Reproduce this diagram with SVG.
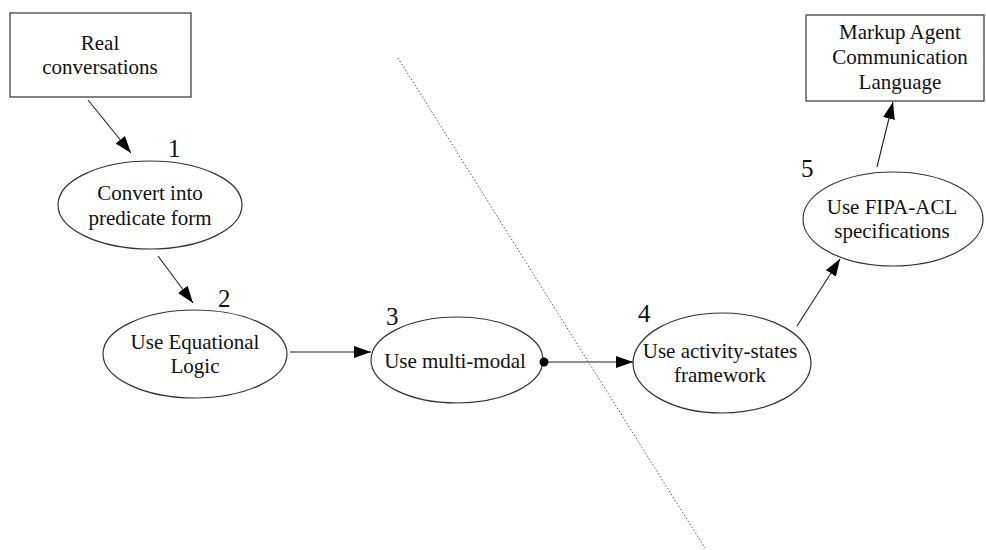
<svg xmlns="http://www.w3.org/2000/svg" width="986" height="550" viewBox="0 0 986 550">
<defs>
<style>
.shape{fill:#fff;stroke:#333;stroke-width:1.2}
.t{font-family:"Liberation Serif","Times New Roman",serif;font-size:21px;fill:#111;text-anchor:middle}
.n{font-family:"Liberation Serif","Times New Roman",serif;font-size:25px;fill:#111}
.c{stroke:#222;stroke-width:1.1;fill:none}
</style>
<marker id="ah" markerUnits="userSpaceOnUse" markerWidth="18" markerHeight="12" viewBox="0 0 18 12" refX="17" refY="6" orient="auto">
<path d="M0,0 L17,6 L0,12 Z" fill="#000"/>
</marker>
</defs>
<rect width="986" height="550" fill="#fff"/>
<line x1="398" y1="58" x2="705" y2="548" stroke="#555" stroke-width="1" stroke-dasharray="1.5,2"/>
<g id="real">
<rect class="shape" x="10" y="13" width="181" height="84"/>
<text class="t" x="100" y="50">Real</text>
<text class="t" x="100" y="74">conversations</text>
</g>
<g id="step1">
<ellipse class="shape" cx="150" cy="205" rx="92" ry="44"/>
<text class="n" x="168" y="157">1</text>
<text class="t" x="150" y="200">Convert into</text>
<text class="t" x="150" y="225">predicate form</text>
</g>
<g id="step2">
<ellipse class="shape" cx="195" cy="354" rx="92" ry="44"/>
<text class="n" x="218" y="307">2</text>
<text class="t" x="195" y="349">Use Equational</text>
<text class="t" x="195" y="373">Logic</text>
</g>
<g id="step3">
<ellipse class="shape" cx="457" cy="360" rx="86" ry="43"/>
<text class="n" x="386" y="325">3</text>
<text class="t" x="455" y="368">Use multi-modal</text>
</g>
<g id="step4">
<ellipse class="shape" cx="722" cy="363" rx="89" ry="50"/>
<text class="n" x="638" y="322">4</text>
<text class="t" x="720" y="358">Use activity-states</text>
<text class="t" x="720" y="382">framework</text>
</g>
<g id="step5">
<ellipse class="shape" cx="893" cy="219" rx="90" ry="47"/>
<text class="n" x="801" y="177">5</text>
<text class="t" x="892" y="214">Use FIPA-ACL</text>
<text class="t" x="892" y="238">specifications</text>
</g>
<g id="markup">
<rect class="shape" x="806" y="15" width="178" height="86"/>
<text class="t" x="900" y="39">Markup Agent</text>
<text class="t" x="900" y="64">Communication</text>
<text class="t" x="900" y="89">Language</text>
</g>
<g id="connectors">
<line class="c" x1="88" y1="100" x2="131" y2="153" marker-end="url(#ah)"/>
<line class="c" x1="158" y1="256" x2="193" y2="303" marker-end="url(#ah)"/>
<line class="c" x1="290" y1="352" x2="371" y2="352" marker-end="url(#ah)"/>
<line class="c" x1="544" y1="362" x2="633" y2="362" marker-end="url(#ah)"/>
<circle cx="544" cy="362" r="4.5" fill="#000"/>
<line class="c" x1="797" y1="326" x2="840" y2="259" marker-end="url(#ah)"/>
<line class="c" x1="877" y1="167" x2="893" y2="102" marker-end="url(#ah)"/>
</g>
</svg>
